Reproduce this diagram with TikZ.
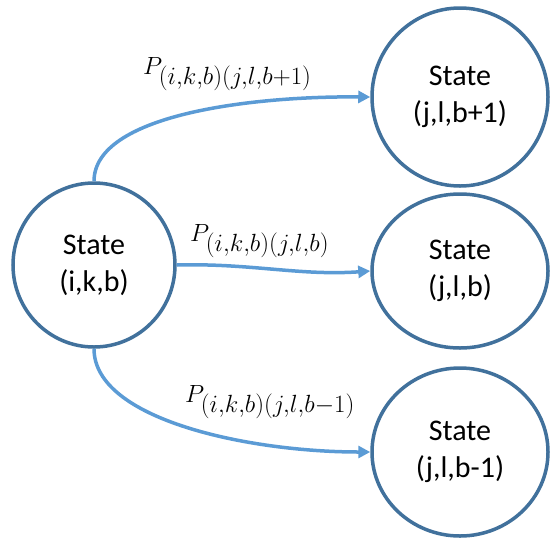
\documentclass[tikz,border=0pt]{standalone}
\usepackage{fontspec}
\setmainfont{Carlito}
\DeclareMathSizes{32}{32}{23}{17}
\usetikzlibrary{shapes.geometric,arrows.meta}
\definecolor{ringblue}{HTML}{41719C}
\definecolor{arrowblue}{HTML}{5B9BD5}
\tikzset{
  statenode/.style={ellipse, draw=ringblue, line width=3.5pt, fill=white, inner sep=0pt,
    align=center, font=\fontsize{30}{37}\selectfont},
  trans/.style={draw=arrowblue, line width=3.5pt, -{Triangle[length=12pt,width=12pt]}},
  problabel/.style={font=\fontsize{32}{35}\selectfont, inner sep=0pt, anchor=base west}
}
\begin{document}
\begin{tikzpicture}[x=1pt,y=-1pt]
\useasboundingbox (0,0) rectangle (551,539);
\node[statenode, minimum width=162pt, minimum height=164pt] (src) at (94,265) {State\\(i,k,b)};
\node[statenode, minimum width=176pt, minimum height=178pt] (top) at (460,97) {State\\(j,l,b+1)};
\node[statenode, minimum width=176pt, minimum height=154pt] (mid) at (460,271) {State\\(j,l,b)};
\node[statenode, minimum width=176pt, minimum height=168pt] (bot) at (460,452) {State\\(j,l,b-1)};
\draw[trans] (src.north) .. controls (94,115) and (250,96) .. (top.west);
\draw[trans] (src.east) .. controls (250,263) and (300,276) .. (mid.west);
\draw[trans] (src.south) .. controls (94,420) and (250,452) .. (bot.west);
\node[problabel] (l1) at (143,74) {$P_{(i,k,b)(j,l,b+1)}$};
\node[problabel] (l2) at (190,241) {$P_{(i,k,b)(j,l,b)}$};
\node[problabel] (l3) at (185,402) {$P_{(i,k,b)(j,l,b-1)}$};
\end{tikzpicture}
\end{document}
